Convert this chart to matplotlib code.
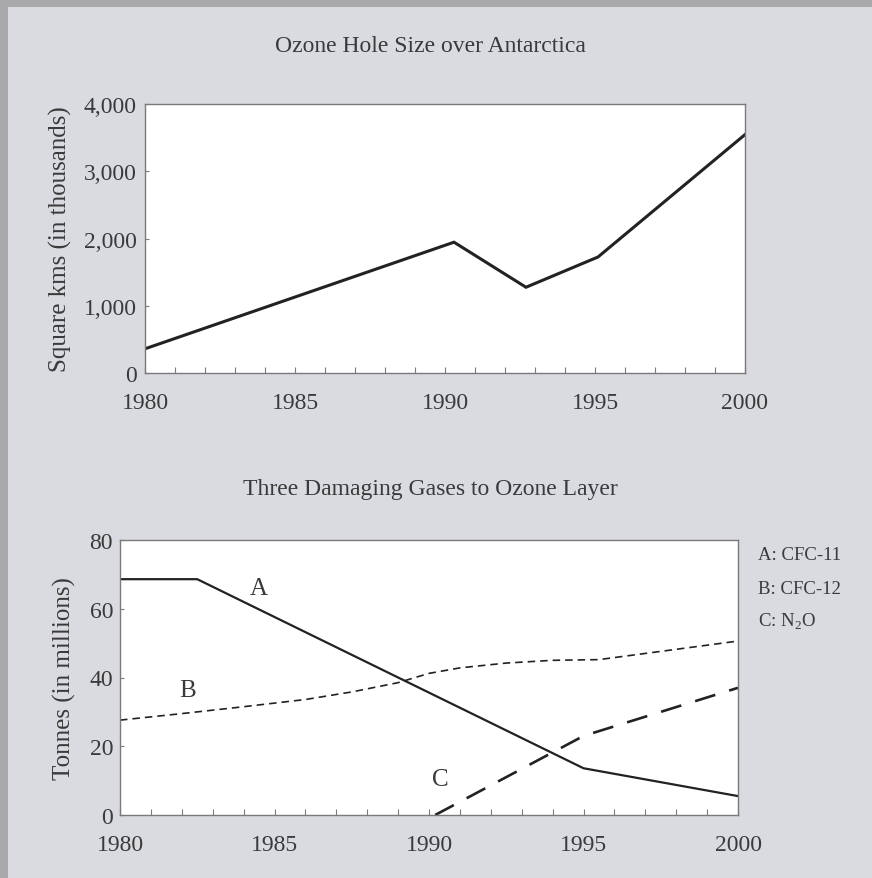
import matplotlib
matplotlib.use("Agg")
import matplotlib.pyplot as plt
from matplotlib.ticker import FuncFormatter, MultipleLocator
from matplotlib.patches import Rectangle

plt.rcParams["font.family"] = ["Liberation Serif", "DejaVu Serif"]
plt.rcParams["mathtext.fontset"] = "custom"
plt.rcParams["mathtext.rm"] = "Liberation Serif"

# ozone hole size, thousands of square km
hole_years = [1980, 1990.3, 1992.7, 1995.1, 2000]
hole_size = [360, 1945, 1275, 1725, 3545]

# damaging gases, millions of tonnes
cfc11_years = [1980, 1982.5, 1995, 2000]
cfc11_vals = [68.6, 68.6, 13.6, 5.5]
cfc12_years = [1980, 1982, 1984, 1986, 1987.5, 1989, 1990, 1991, 1992.5, 1994, 1995.5, 2000]
cfc12_vals = [27.6, 29.5, 31.5, 33.6, 35.8, 38.5, 41.2, 42.8, 44.2, 45.0, 45.2, 50.6]
n2o_years = [1990.2, 1995, 2000]
n2o_vals = [0, 23, 37]

year_ticks = [1980, 1985, 1990, 1995, 2000]
legend_labels = ["A: CFC-11", "B: CFC-12", "C: N$_\\mathrm{2}$O"]

BG = "#dadbe0"
TXT = "#3a3a3a"
LINE = "#222222"
SPINE = "#7a7a7a"

fig = plt.figure(figsize=(8.72, 8.79), dpi=100, facecolor=BG)
# darker scan edge on top and left
fig.patches.append(Rectangle((0, 1 - 8 / 879), 1, 8 / 879, transform=fig.transFigure,
                             facecolor="#a9a9ab", edgecolor="none", zorder=0))
fig.patches.append(Rectangle((0, 0), 8 / 872, 1, transform=fig.transFigure,
                             facecolor="#a9a9ab", edgecolor="none", zorder=0))


def style_axes(ax, ypad):
    ax.set_facecolor("white")
    for sp in ax.spines.values():
        sp.set_color(SPINE)
        sp.set_linewidth(1.0)
    ax.set_xlim(1980, 2000)
    ax.xaxis.set_major_locator(MultipleLocator(5))
    ax.xaxis.set_minor_locator(MultipleLocator(1))
    ax.tick_params(axis="x", which="both", direction="in", length=4, width=0.8,
                   color=SPINE, labelsize=17, labelcolor=TXT, pad=14)
    ax.tick_params(axis="y", which="both", direction="in", length=3, width=0.8,
                   color=SPINE, labelsize=17, labelcolor=TXT, pad=ypad)
    ax.set_xticks(year_ticks)
    ax.set_xticklabels([str(y) for y in year_ticks])


# top chart
ax1 = fig.add_axes([145 / 872, 1 - 374 / 879, 600 / 872, 269 / 879])
style_axes(ax1, 6)
ax1.plot(hole_years, hole_size, color=LINE, lw=2.2, solid_joinstyle="miter")
ax1.set_ylim(0, 4000)
ax1.set_yticks([0, 1000, 2000, 3000, 4000])
ax1.yaxis.set_major_formatter(FuncFormatter(lambda v, p: "{:,.0f}".format(v)))
ax1.set_ylabel("Square kms (in thousands)", fontsize=18, color=TXT)
ax1.yaxis.set_label_coords(-0.122, 0.5)
fig.text(430 / 872, 1 - 47 / 879, "Ozone Hole Size over Antarctica", ha="center",
         va="center", fontsize=17, color=TXT)

# bottom chart
ax2 = fig.add_axes([120 / 872, 1 - 816 / 879, 618 / 872, 275 / 879])
style_axes(ax2, 5)
ax2.plot(cfc11_years, cfc11_vals, color=LINE, lw=1.6, solid_joinstyle="miter")
ax2.plot(cfc12_years, cfc12_vals, color=LINE, lw=1.2, dashes=(4.5, 3))
ax2.plot(n2o_years, n2o_vals, color=LINE, lw=1.9, dashes=(8, 5.5))
ax2.set_ylim(0, 80)
ax2.set_yticks([0, 20, 40, 60, 80])
ax2.set_ylabel("Tonnes (in millions)", fontsize=18, color=TXT)
ax2.yaxis.set_label_coords(-0.071, 0.5)
ax2.text(1984.5, 66, "A", fontsize=18, color=TXT, ha="center", va="center")
ax2.text(1982.2, 36.5, "B", fontsize=18, color=TXT, ha="center", va="center")
ax2.text(1990.35, 10.5, "C", fontsize=18, color=TXT, ha="center", va="center")
fig.text(430 / 872, 1 - 490 / 879, "Three Damaging Gases to Ozone Layer", ha="center",
         va="center", fontsize=17, color=TXT)

for i, lab in enumerate(legend_labels):
    fig.text(758 / 872, 1 - (556 + i * 33) / 879, lab, ha="left", va="center",
             fontsize=13.5, color=TXT)

fig.savefig("out.png", dpi=100, facecolor=BG)
